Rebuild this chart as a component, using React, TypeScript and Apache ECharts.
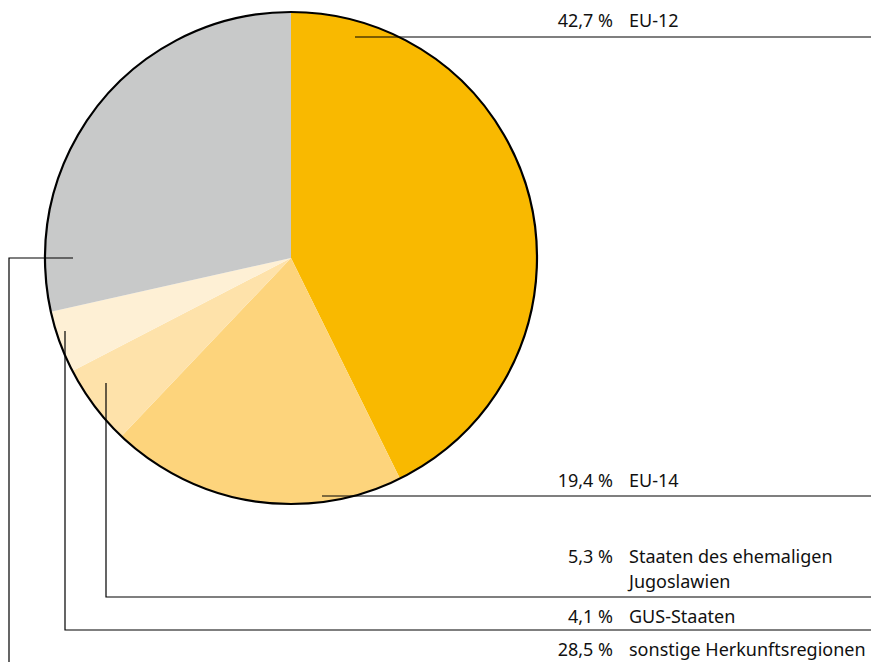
import React, { useEffect, useRef } from "react";
import * as echarts from "echarts";

const categories = [
  "EU-12",
  "EU-14",
  "Staaten des ehemaligen\nJugoslawien",
  "GUS-Staaten",
  "sonstige Herkunftsregionen",
];
const values = [42.7, 19.4, 5.3, 4.1, 28.5];
const percentLabels = ["42,7 %", "19,4 %", "5,3 %", "4,1 %", "28,5 %"];
const colors = ["#F9B900", "#FDD47C", "#FEE2AA", "#FEF0D5", "#C8C9C9"];

// annotation layout (leader lines and label rows)
const leaderPaths: number[][][] = [
  [[355, 37], [871, 37]],
  [[322, 496], [871, 496]],
  [[106, 383], [106, 597], [871, 597]],
  [[65, 331], [65, 630], [871, 630]],
  [[73, 258], [9, 258], [9, 662]],
];
const labelY = [20, 480, 556, 616, 649];

const FONT = "'Noto Sans', 'Open Sans', sans-serif";

export default function App() {
  const ref = useRef<HTMLDivElement>(null);
  useEffect(() => {
    const chart = echarts.init(ref.current!, null, { renderer: "svg" });
    const graphics: any[] = [];
    leaderPaths.forEach((pts) => {
      graphics.push({
        type: "polyline",
        shape: { points: pts },
        style: { stroke: "#000000", lineWidth: 1.2, fill: null },
        z: 100,
      });
    });
    categories.forEach((name, i) => {
      const lines = name.split("\n");
      graphics.push({
        type: "text",
        x: 613,
        y: labelY[i],
        style: {
          text: percentLabels[i],
          font: `18px ${FONT}`,
          fill: "#111111",
          textAlign: "right",
          textVerticalAlign: "middle",
        },
        z: 100,
      });
      lines.forEach((ln, j) => {
        graphics.push({
          type: "text",
          x: 629,
          y: labelY[i] + j * 25,
          style: {
            text: ln,
            font: `18px ${FONT}`,
            fill: "#111111",
            textAlign: "left",
            textVerticalAlign: "middle",
          },
          z: 100,
        });
      });
    });

    chart.setOption({
      animation: false,
      backgroundColor: "#ffffff",
      series: [
        {
          type: "pie",
          center: [291, 258],
          radius: [0, 246],
          startAngle: 90,
          clockwise: true,
          label: { show: false },
          labelLine: { show: false },
          silent: true,
          itemStyle: { borderWidth: 0 },
          data: categories.map((c, i) => ({
            name: c,
            value: values[i],
            itemStyle: { color: colors[i] },
          })),
        },
        {
          type: "pie",
          center: [291, 258],
          radius: [0, 246],
          silent: true,
          z: 5,
          label: { show: false },
          labelLine: { show: false },
          data: [
            {
              value: values.reduce((a, b) => a + b, 0),
              itemStyle: {
                color: "rgba(0,0,0,0)",
                borderColor: "#000000",
                borderWidth: 2.2,
              },
            },
          ],
        },
      ],
      graphic: graphics,
    });
    return () => chart.dispose();
  }, []);
  return (
    <div
      ref={ref}
      style={{ position: "fixed", left: 0, top: 0, width: 871, height: 662 }}
    />
  );
}
